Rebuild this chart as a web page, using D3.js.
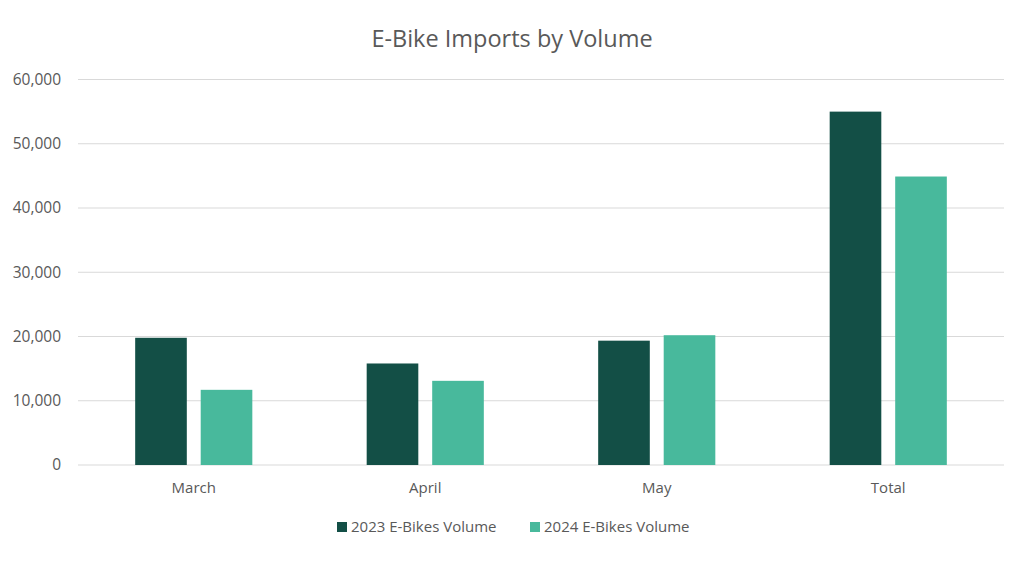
<!DOCTYPE html>
<html>
<head>
<meta charset="utf-8">
<script src="https://cdn.jsdelivr.net/npm/d3@7"></script>
<style>
html,body{margin:0;padding:0;background:#fff;}
svg{display:block;font-family:"Open Sans","Noto Sans",sans-serif;}
</style>
</head>
<body>
<svg id="chart" width="1024" height="567"></svg>
<script>
const categories = ["March", "April", "May", "Total"];
const seriesNames = ["2023 E-Bikes Volume", "2024 E-Bikes Volume"];
const values2023 = [19800, 15800, 19350, 55000];
const values2024 = [11700, 13100, 20200, 44900];
const yTicks = [0, 10000, 20000, 30000, 40000, 50000, 60000];
const colors = ["#134F46", "#48B99C"];
const title = "E-Bike Imports by Volume";

const svg = d3.select("#chart");
const plotLeft = 78, plotRight = 1004, plotTop = 79.5, plotBottom = 465;

const x = d3.scaleBand().domain(categories).range([plotLeft, plotRight]).padding(0);
const y = d3.scaleLinear().domain([0, 60000]).range([plotBottom, plotTop]);

const barW = x.bandwidth() * 0.223;
const gap = x.bandwidth() * 0.06;

// gridlines
svg.append("g").selectAll("line").data(yTicks).join("line")
  .attr("x1", plotLeft).attr("x2", plotRight)
  .attr("y1", d => y(d)).attr("y2", d => y(d))
  .attr("stroke", "#d9d9d9").attr("stroke-width", 1.2);

// y labels
const fmt = d3.format(",");
svg.append("g").selectAll("text").data(yTicks).join("text")
  .attr("x", 61).attr("y", d => y(d)).attr("dy", "0.35em")
  .attr("text-anchor", "end").attr("fill", "#595959").attr("font-size", 15.5)
  .text(d => fmt(d));

// bars
const series = [values2023, values2024];
series.forEach((vals, si) => {
  svg.append("g").selectAll("rect").data(categories).join("rect")
    .attr("x", (c) => {
      const cx = x(c) + x.bandwidth() / 2;
      const groupW = barW * 2 + gap;
      return cx - groupW / 2 + si * (barW + gap);
    })
    .attr("y", (c, i) => y(vals[i]))
    .attr("width", barW)
    .attr("height", (c, i) => y(0) - y(vals[i]))
    .attr("fill", colors[si]);
});

// x labels
svg.append("g").selectAll("text").data(categories).join("text")
  .attr("x", c => x(c) + x.bandwidth() / 2).attr("y", 493)
  .attr("text-anchor", "middle").attr("fill", "#595959").attr("font-size", 15)
  .text(c => c);

// title
svg.append("text").attr("x", 512).attr("y", 47).attr("text-anchor", "middle")
  .attr("fill", "#595959").attr("font-size", 23.5).text(title);

// legend
const legend = svg.append("g");
const legendX = [337, 530];
seriesNames.forEach((n, i) => {
  const g = legend.append("g").attr("transform", `translate(${legendX[i]},527)`);
  g.append("rect").attr("x", 0).attr("y", -5).attr("width", 10).attr("height", 10).attr("fill", colors[i]);
  g.append("text").attr("x", 14).attr("y", 0).attr("dy", "0.35em")
    .attr("fill", "#595959").attr("font-size", 15).text(n);
});
</script>
</body>
</html>
